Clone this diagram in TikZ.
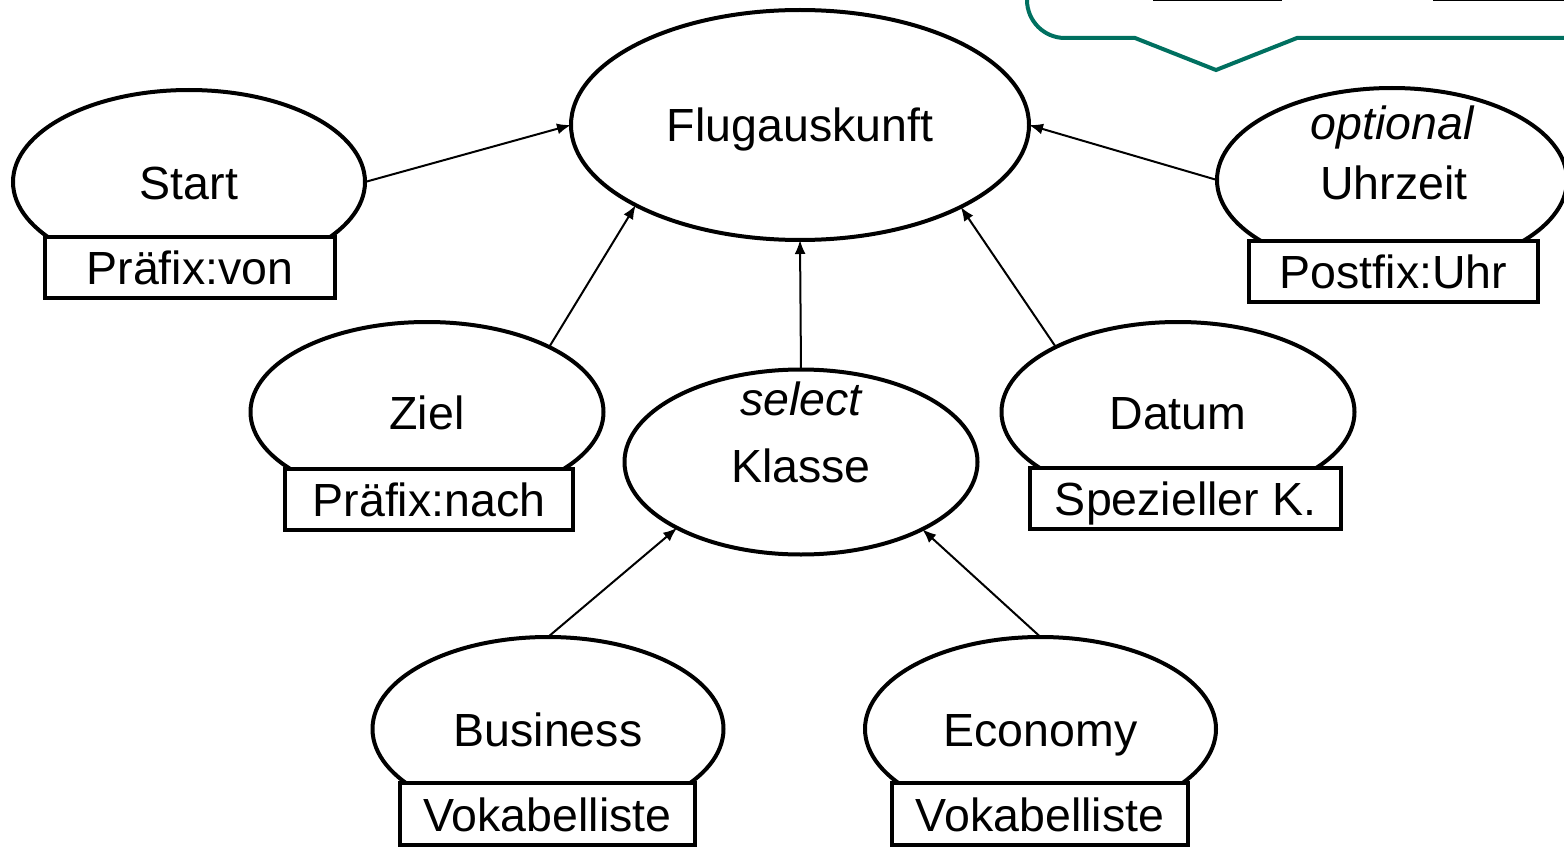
\documentclass[tikz,border=0pt]{standalone}
\usepackage{fontspec}
\setmainfont{Liberation Sans}
\usetikzlibrary{shapes.geometric,arrows.meta}
\definecolor{callout}{RGB}{0,112,96}
\tikzset{
  ell/.style={ellipse,draw,line width=4pt,inner sep=0pt,outer sep=0pt,
    minimum width=352pt,minimum height=184pt,text height=34pt,text depth=0pt,
    font=\fontsize{46.5}{50}\selectfont},
  tagbox/.style={rectangle,draw,fill=white,line width=4pt,inner sep=0pt,outer sep=0pt,
    minimum height=61pt,text height=34pt,text depth=0pt,font=\fontsize{46.5}{50}\selectfont},
  txt/.style={inner sep=0pt,text height=34pt,text depth=0pt,font=\fontsize{46.5}{50}\selectfont},
  itxt/.style={inner sep=0pt,text height=34pt,text depth=0pt,font=\fontsize{46.5}{50}\selectfont\itshape},
  arr/.style={line width=2pt,-{Latex[length=14pt,width=11pt]}},
}
\begin{document}
\begin{tikzpicture}[x=1pt,y=-1pt]
\useasboundingbox (0,0) rectangle (1564,848);
% callout
\draw[callout,line width=4pt,line join=miter]
  (1027,-10) -- (1027,0) arc[start angle=180,end angle=270,radius=38pt]
  -- (1135,38) -- (1216,70) -- (1297,38) -- (1570,38);
\draw[line width=3pt] (1153,0) -- (1282,0);
\draw[line width=3pt] (1433,0) -- (1566,0);
% nodes
\node[ell,minimum width=458pt,minimum height=230pt] (flug) at (800,125) {Flugauskunft};
\node[ell] (start) at (189,182) {Start};
\node[tagbox,minimum width=290pt] (startb) at (190,267.5) {Präfix:von};
\node[ell,minimum width=353pt,minimum height=180pt] (ziel) at (427,412) {Ziel};
\node[tagbox,minimum width=288pt] (zielb) at (429,499) {Präfix:nach};
\node[ell,minimum width=353pt,minimum height=185pt] (klasse) at (801,462) {};
\node[itxt] (klsel) at (801,398) {select};
\node[txt] (kltxt) at (801,465) {Klasse};
\node[ell,minimum width=353pt,minimum height=180pt] (datum) at (1178,412) {Datum};
\node[tagbox,minimum width=311pt] (datumb) at (1185.5,498) {Spezieller K.};
\node[ell,minimum width=350pt] (uhr) at (1392,180) {};
\node[itxt] (uhropt) at (1392,123) {optional};
\node[txt] (uhrtxt) at (1394,183) {Uhrzeit};
\node[tagbox,minimum width=289pt] (uhrb) at (1393.5,271.5) {Postfix:Uhr};
\node[ell,minimum width=351pt] (bus) at (548,729) {Business};
\node[tagbox,minimum width=295pt,minimum height=62pt] (busb) at (547.5,814) {Vokabelliste};
\node[ell,minimum width=351pt] (eco) at (1040.5,729) {Economy};
\node[tagbox,minimum width=296pt,minimum height=62pt] (ecob) at (1040,814) {Vokabelliste};
% connectors
\draw[arr] (start.east) -- (flug.west);
\draw[arr] (ziel.28) -- (flug.206.6);
\draw[arr] (klasse.north) -- (flug.south);
\draw[arr] (datum.152.7) -- (flug.333.4);
\draw[arr] (uhr.west) -- (flug.east);
\draw[arr] (bus.north) -- (klasse.208.5);
\draw[arr] (eco.north) -- (klasse.331.5);
\end{tikzpicture}
\end{document}
